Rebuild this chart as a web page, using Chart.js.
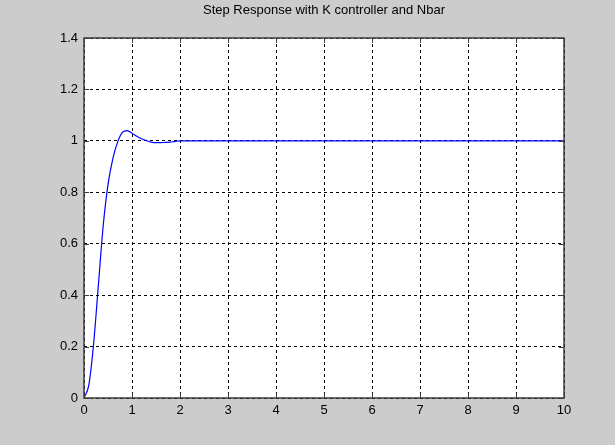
<!DOCTYPE html>
<html>
<head>
<meta charset="utf-8">
<script src="https://cdn.jsdelivr.net/npm/chart.js@4.4.1/dist/chart.umd.min.js"></script>
<style>
	html, body { margin: 0; padding: 0; background: #cccccc; }
	#wrap { width: 615px; height: 445px; }
</style>
</head>
<body>
<div id="wrap"><canvas id="stepChart"></canvas></div>
<script>
// step response
const timeValues = [0, 0.1, 0.2, 0.3, 0.4, 0.5, 0.6, 0.7, 0.8, 0.9, 1.0, 1.1, 1.2, 1.3, 1.4, 1.5, 1.6, 1.7, 1.8, 1.9, 2.0, 3, 4, 5, 6, 7, 8, 9, 10];
const responseValues = [0, 0.05, 0.21, 0.44, 0.67, 0.83, 0.93, 0.995, 1.033, 1.04, 1.03, 1.018, 1.008, 1.001, 0.995, 0.993, 0.993, 0.994, 0.995, 0.998, 1.0, 1.0, 1.0, 1.0, 1.0, 1.0, 1.0, 1.0, 1.0];
const xTicks = [0, 1, 2, 3, 4, 5, 6, 7, 8, 9, 10];
const yTicks = [0, 0.2, 0.4, 0.6, 0.8, 1, 1.2, 1.4];
const chartTitle = "Step Response with K controller and Nbar";

const FONT = "'Liberation Sans', Arial, sans-serif";

// white plot area, box, inward ticks and title (matlab look)
const matlabAxes = {
	id: 'matlabAxes',
	beforeDraw(chart) {
		const a = chart.chartArea;
		const ctx = chart.ctx;
		ctx.save();
		ctx.fillStyle = '#ffffff';
		ctx.fillRect(a.left, a.top, a.right - a.left, a.bottom - a.top);
		ctx.restore();
	},
	afterDraw(chart) {
		const a = chart.chartArea;
		const ctx = chart.ctx;
		const xs = chart.scales.x;
		const ys = chart.scales.y;
		ctx.save();
		ctx.strokeStyle = '#3c3c3c';
		ctx.lineWidth = 1;
		ctx.beginPath();
		xTicks.forEach(v => {
			const px = Math.round(xs.getPixelForValue(v)) + 0.5;
			ctx.moveTo(px, a.bottom);
			ctx.lineTo(px, a.bottom - 5);
			ctx.moveTo(px, a.top);
			ctx.lineTo(px, a.top + 5);
		});
		yTicks.forEach(v => {
			const py = Math.round(ys.getPixelForValue(v)) + 0.5;
			ctx.moveTo(a.left, py);
			ctx.lineTo(a.left + 5, py);
			ctx.moveTo(a.right, py);
			ctx.lineTo(a.right - 5, py);
		});
		ctx.stroke();
		ctx.lineWidth = 1.5;
		ctx.strokeRect(Math.round(a.left), Math.round(a.top), Math.round(a.right - a.left), Math.round(a.bottom - a.top));

		ctx.fillStyle = '#000000';
		ctx.font = '13px ' + FONT;
		ctx.textAlign = 'center';
		ctx.textBaseline = 'alphabetic';
		ctx.fillText(chartTitle, (a.left + a.right) / 2, 14);
		ctx.restore();
	}
};

new Chart(document.getElementById('stepChart'), {
	type: 'scatter',
	data: {
		datasets: [{
			label: 'step',
			data: timeValues.map((t, i) => ({ x: t, y: responseValues[i] })),
			showLine: true,
			borderColor: '#0000ff',
			borderWidth: 1.2,
			pointRadius: 0,
			cubicInterpolationMode: 'monotone',
			fill: false
		}]
	},
	options: {
		responsive: true,
		maintainAspectRatio: false,
		animation: false,
		layout: { padding: { top: 38, right: 51, bottom: 0, left: 0 } },
		plugins: {
			legend: { display: false },
			tooltip: { enabled: false },
			title: { display: false }
		},
		scales: {
			x: {
				type: 'linear',
				min: 0,
				max: 10,
				afterBuildTicks: s => { s.ticks = xTicks.map(v => ({ value: v })); },
				afterFit: s => { s.height = 47; },
				grid: { color: '#000000', lineWidth: 1, drawTicks: false },
				border: { display: false, dash: [3, 3] },
				ticks: { color: '#000000', padding: 5, font: { family: FONT, size: 13 }, maxRotation: 0, callback: v => String(v) }
			},
			y: {
				type: 'linear',
				min: 0,
				max: 1.4,
				afterBuildTicks: s => { s.ticks = yTicks.map(v => ({ value: v })); },
				afterFit: s => { s.width = 84; },
				grid: { color: '#000000', lineWidth: 1, drawTicks: false },
				border: { display: false, dash: [3, 3] },
				ticks: { color: '#000000', padding: 6, font: { family: FONT, size: 13 }, callback: v => String(v) }
			}
		}
	},
	plugins: [matlabAxes]
});
</script>
</body>
</html>
